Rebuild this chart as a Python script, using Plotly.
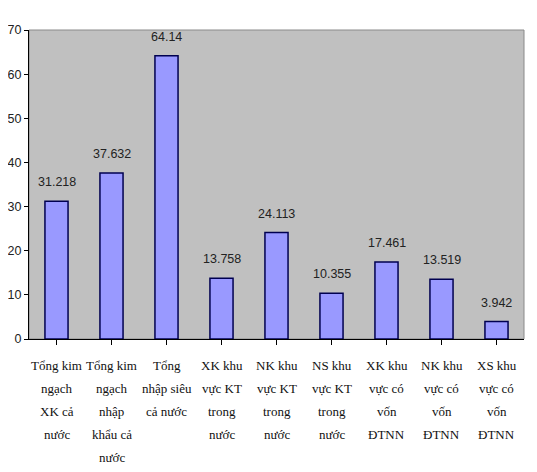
import plotly.graph_objects as go

# dữ liệu
categories = [
    "Tổng kim<br>ngạch<br>XK cả<br>nước",
    "Tổng kim<br>ngạch<br>nhập<br>khẩu cả<br>nước",
    "Tổng<br>nhập siêu<br>cả nước",
    "XK khu<br>vực KT<br>trong<br>nước",
    "NK khu<br>vực KT<br>trong<br>nước",
    "NS khu<br>vực KT<br>trong<br>nước",
    "XK khu<br>vực có<br>vốn<br>ĐTNN",
    "NK khu<br>vực có<br>vốn<br>ĐTNN",
    "XS khu<br>vực có<br>vốn<br>ĐTNN",
]
values = [31.218, 37.632, 64.14, 13.758, 24.113, 10.355, 17.461, 13.519, 3.942]
value_labels = ["31.218", "37.632", "64.14", "13.758", "24.113", "10.355", "17.461", "13.519", "3.942"]
y_ticks = [0, 10, 20, 30, 40, 50, 60, 70]

xs = list(range(len(categories)))
sans = "Liberation Sans, Arial, sans-serif"

fig = go.Figure()
fig.add_trace(go.Bar(
    x=xs, y=values, width=0.42,
    marker=dict(color="#9999FF", line=dict(color="#000050", width=1.5)),
))

# nhãn giá trị trên cột
for x, v, t in zip(xs, values, value_labels):
    fig.add_annotation(x=x, y=v, text=t, showarrow=False, yanchor="bottom", yshift=10,
                       font=dict(family=sans, size=12.5, color="#222222"))

# nhãn trục x, từng dòng một (giãn dòng rộng như bản gốc)
for x, cat in zip(xs, categories):
    for k, line in enumerate(cat.split("<br>")):
        fig.add_annotation(x=x, y=0, xref="x", yref="paper", text=line, showarrow=False,
                           yanchor="middle", yshift=-26 - 23 * k,
                           font=dict(family="Liberation Serif", size=13, color="#111111"))

# viền vùng vẽ
fig.add_shape(type="rect", xref="paper", yref="paper", x0=0, y0=0, x1=1, y1=1,
              line=dict(color="#8a8a8a", width=1), layer="below")

# trang có lề 8px nên khung hình nhỏ hơn cửa sổ 8px
fig.update_layout(
    width=529, height=464,
    margin=dict(l=21, r=13, t=22, b=133),
    paper_bgcolor="white", plot_bgcolor="#C0C0C0",
    showlegend=False,
)
fig.update_xaxes(
    range=[-0.5, len(categories) - 0.5],
    tickvals=xs, ticktext=[""] * len(xs),
    ticks="outside", ticklen=5, tickcolor="black", tickson="boundaries",
    showline=True, linecolor="black", linewidth=1, showgrid=False,
    automargin=False,
)
fig.update_yaxes(
    range=[0, 70], tickvals=y_ticks,
    ticks="outside", ticklen=4, tickcolor="black",
    showline=True, linecolor="black", linewidth=1, showgrid=False, zeroline=False,
    tickfont=dict(family=sans, size=12.5, color="#222222"),
    automargin=False,
)

fig.write_html("out.html")
